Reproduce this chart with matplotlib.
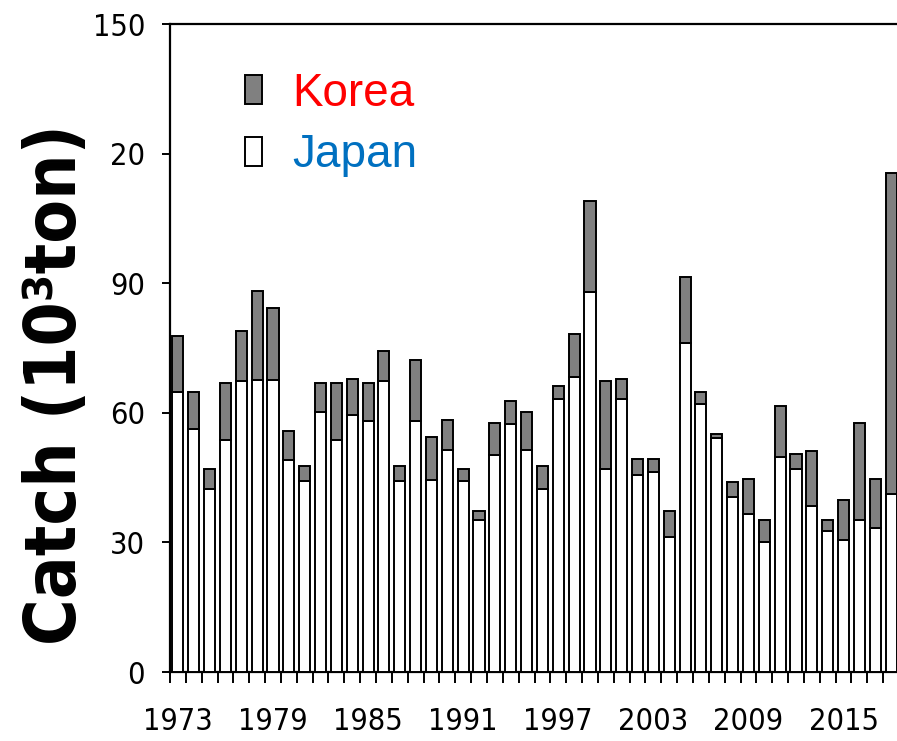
import matplotlib
matplotlib.use("Agg")
import matplotlib.pyplot as plt
from matplotlib import font_manager as fm
from matplotlib.font_manager import FontProperties

years = list(range(1973, 2019))
japan = [64.8, 56.2, 42.4, 53.6, 67.3, 67.7, 67.7, 49.1, 44.2, 60.1,
         53.6, 59.5, 58.1, 67.3, 44.2, 58.1, 44.4, 51.5, 44.2, 35.1,
         50.3, 57.3, 51.5, 42.4, 63.3, 68.4, 87.9, 47.0, 63.3, 45.6,
         46.2, 31.2, 76.2, 62.1, 54.2, 40.5, 36.6, 30.0, 49.7, 47.0,
         38.5, 32.7, 30.5, 35.1, 33.3, 41.1]
korea = [12.9, 8.6, 4.7, 13.2, 11.6, 20.4, 16.6, 6.7, 3.6, 6.7,
         13.2, 8.4, 8.7, 7.0, 3.6, 14.2, 9.9, 6.8, 2.9, 2.1,
         7.3, 5.5, 8.8, 5.4, 2.9, 9.9, 21.1, 20.3, 4.6, 3.6,
         3.0, 6.0, 15.2, 2.7, 0.8, 3.4, 8.0, 5.2, 11.8, 3.4,
         12.6, 2.5, 9.4, 22.5, 11.3, 74.4]
xtick_years = [1973, 1979, 1985, 1991, 1997, 2003, 2009, 2015]
ytick_values = [0, 30, 60, 90, 120, 150]
ytick_labels = ["0", "30", "60", "90", "20", "150"]
series_names = ["Korea", "Japan"]
ylabel_text = "Catch (10³ton)"


def find_font(keys, bold=False):
    for key in keys:
        for f in fm.fontManager.ttflist:
            fn = f.fname.replace("-", "").replace("_", "").lower()
            if key in fn:
                isbold = ("bold" in fn) and ("semibold" not in fn)
                if isbold == bold and "italic" not in fn and "oblique" not in fn:
                    return f.fname
    return None


keys = ["liberationsansnarrow", "dejavusanscondensed",
        "robotocondensed", "opensanscondensed"]
narrow_file = find_font(keys)
narrow_bold_file = find_font(keys, bold=True)


def tick_font(size):
    if narrow_file:
        return FontProperties(fname=narrow_file, size=size)
    return FontProperties(family="Liberation Sans", size=size)


def label_font(size):
    if narrow_bold_file:
        return FontProperties(fname=narrow_bold_file, size=size)
    return FontProperties(family="Liberation Sans", weight="bold", size=size)


W, H = 897, 741
fig = plt.figure(figsize=(W / 100, H / 100), dpi=100)
ax = fig.add_axes([170 / W, 69 / H, 729 / W, 648 / H])

x = list(range(len(years)))
b_japan = ax.bar(x, japan, width=0.7, color="white", edgecolor="black",
                 linewidth=1.4, label=series_names[1], zorder=3)
b_korea = ax.bar(x, korea, width=0.7, bottom=japan, color="#808080",
                 edgecolor="black", linewidth=1.4, label=series_names[0], zorder=3)

ax.set_xlim(-0.5, len(years) - 0.5)
ax.set_ylim(0, 150)

ax.spines["right"].set_visible(False)
for s in ["left", "bottom", "top"]:
    ax.spines[s].set_linewidth(1.6)

tf = tick_font(22)
ax.set_yticks(ytick_values)
ax.set_yticklabels(ytick_labels, fontproperties=tf)
ax.tick_params(axis="y", direction="out", length=6, width=1.4, pad=12)

ax.set_xticks([years.index(y) for y in xtick_years])
ax.set_xticklabels([str(y) for y in xtick_years], fontproperties=tf)
ax.set_xticks([i - 0.5 for i in range(len(years) + 1)], minor=True)
ax.tick_params(axis="x", which="major", length=0, pad=25)
ax.tick_params(axis="x", which="minor", direction="out", length=8, width=1.4)

lf = label_font(51 if narrow_bold_file else 55)
ax.set_ylabel(ylabel_text, fontproperties=lf, va="center")
ax.yaxis.set_label_coords((56 - 170) / 729, (672 - 385) / 648)

leg = ax.legend(handles=[b_korea, b_japan], labels=series_names,
                loc="upper left", bbox_to_anchor=(245 / W, 1 - 72 / H),
                bbox_transform=fig.transFigure, frameon=False,
                prop={"family": "Liberation Sans", "size": 33},
                handlelength=0.36, handleheight=0.6, handletextpad=0.68,
                labelspacing=0.38, borderpad=0, borderaxespad=0,
                labelcolor=["#FF0000", "#0070C0"])

fig.savefig("out.png", dpi=100)
